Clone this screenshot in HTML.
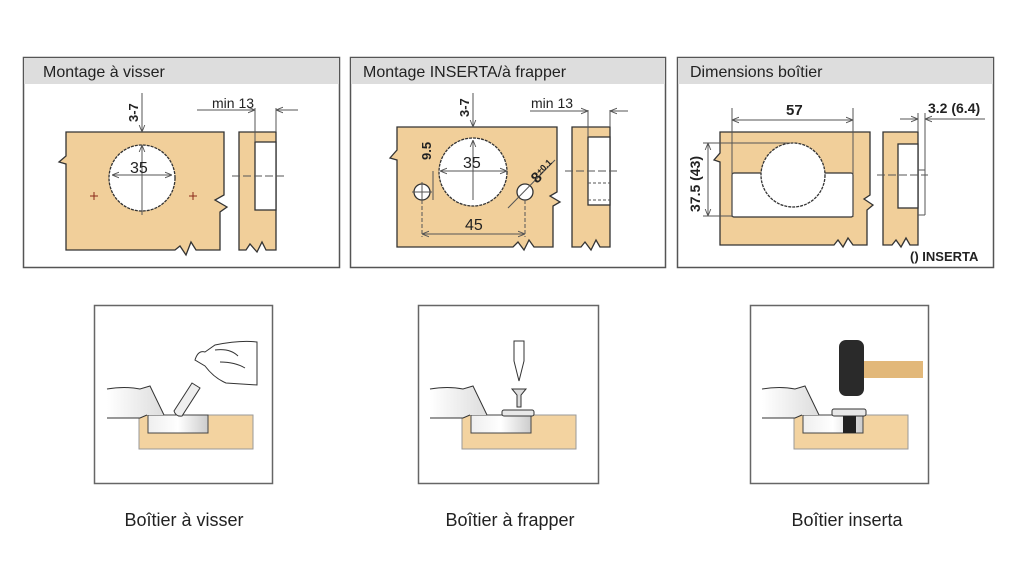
<!DOCTYPE html>
<html><head><meta charset="utf-8"><style>
body{margin:0;background:#fff;}
svg{display:block;font-family:"Liberation Sans",sans-serif;}
</style></head><body>
<svg width="1024" height="563" viewBox="0 0 1024 563" xmlns="http://www.w3.org/2000/svg">
<defs>
<marker id="a" viewBox="0 0 10 10" refX="10" refY="5" markerWidth="7" markerHeight="7" orient="auto-start-reverse"><path d="M0,1 L10,5 L0,9" fill="none" stroke="#555" stroke-width="1.3"/></marker>
<linearGradient id="g" x1="0" y1="0" x2="1" y2="0"><stop offset="0" stop-color="#eee"/><stop offset="0.5" stop-color="#fff"/><stop offset="1" stop-color="#ccc"/></linearGradient>
<linearGradient id="h" x1="0" y1="0" x2="1" y2="0"><stop offset="0" stop-color="#fff"/><stop offset="1" stop-color="#ddd"/></linearGradient>
</defs>
<g stroke="#555" stroke-width="1.5" fill="#fff">
<rect x="23.5" y="57.5" width="316" height="210"/>
<rect x="350.5" y="57.5" width="315" height="210"/>
<rect x="677.5" y="57.5" width="316" height="210"/>
</g>
<g fill="#ddd">
<rect x="24" y="58" width="315" height="26"/>
<rect x="351" y="58" width="314" height="26"/>
<rect x="678" y="58" width="315" height="26"/>
</g>
<g font-size="16" fill="#222">
<text x="43" y="77">Montage à visser</text>
<text x="363" y="77">Montage INSERTA/à frapper</text>
<text x="690" y="77">Dimensions boîtier</text>
</g>
<!-- Panel 1 -->
<g stroke="#333" stroke-width="1.3">
<path d="M66,132 H224 V195 L215,200 L227,207 L220,212 V250 H196 L191,242 L186,255 L180,246 L175,250 H66 V164 L59,162 L66,156 Z" fill="#f1cf9a"/>
<circle cx="142" cy="178" r="33" fill="#fff" stroke-dasharray="3,1"/>
<path d="M239,132 H276 V250 H266 L262,242 L257,252 L250,244 L246,250 H239 Z" fill="#f1cf9a"/>
<rect x="255" y="142" width="21" height="68" fill="#fff"/>
</g>
<g stroke="#555" stroke-width="1" fill="none">
<line x1="142" y1="93" x2="142" y2="132" marker-end="url(#a)"/>
<line x1="142" y1="155" x2="142" y2="145" marker-end="url(#a)"/>
<line x1="142" y1="145" x2="142" y2="215"/>
<line x1="112" y1="175" x2="172" y2="175" marker-start="url(#a)" marker-end="url(#a)"/>
<line x1="255" y1="108" x2="255" y2="142"/><line x1="276" y1="108" x2="276" y2="132"/>
<line x1="197" y1="110" x2="255" y2="110" marker-end="url(#a)"/>
<line x1="298" y1="110" x2="276" y2="110" marker-end="url(#a)"/>
<line x1="232" y1="176" x2="286" y2="176" stroke-dasharray="8,3"/>
<path d="M90,196h8M94,192v8M189,196h8M193,192v8" stroke="#8a2a1a"/>
</g>
<text x="130" y="173" font-size="16" fill="#222">35</text>
<text x="212" y="108" font-size="14" fill="#222">min 13</text>
<text transform="translate(138,122) rotate(-90)" font-size="13" font-weight="bold" fill="#222">3-7</text>
<!-- Panel 2 -->
<g stroke="#333" stroke-width="1.3">
<path d="M397,127 H557 V192 L550,196 L560,202 L553,206 V247 H534 L529,240 L524,250 L518,242 L513,247 H397 V160 L390,158 L397,150 Z" fill="#f1cf9a"/>
<circle cx="473" cy="172" r="34" fill="#fff" stroke-dasharray="3,1"/>
<circle cx="422" cy="192" r="8" fill="#fff"/>
<circle cx="525" cy="192" r="8" fill="#fff"/>
<path d="M572,127 H610 V247 H600 L596,240 L591,250 L585,242 L581,247 H572 Z" fill="#f1cf9a"/>
<rect x="588" y="137" width="22" height="68" fill="#fff"/>
</g>
<g stroke="#555" stroke-width="1" fill="none">
<line x1="473" y1="93" x2="473" y2="127" marker-end="url(#a)"/>
<line x1="473" y1="148" x2="473" y2="140" marker-end="url(#a)"/>
<line x1="473" y1="140" x2="473" y2="200"/>
<line x1="440" y1="171" x2="507" y2="171" marker-start="url(#a)" marker-end="url(#a)"/>
<line x1="433" y1="171" x2="433" y2="200"/>
<line x1="422" y1="200" x2="422" y2="237" stroke-dasharray="4,2"/>
<line x1="525" y1="200" x2="525" y2="237" stroke-dasharray="4,2"/>
<line x1="422" y1="234" x2="525" y2="234" marker-start="url(#a)" marker-end="url(#a)"/>
<line x1="412" y1="192" x2="432" y2="192"/><line x1="422" y1="182" x2="422" y2="202"/>
<line x1="508" y1="208" x2="555" y2="160"/>
<line x1="588" y1="110" x2="588" y2="137"/><line x1="610" y1="110" x2="610" y2="127"/>
<line x1="530" y1="111" x2="588" y2="111" marker-end="url(#a)"/>
<line x1="628" y1="111" x2="610" y2="111" marker-end="url(#a)"/>
<line x1="565" y1="171" x2="620" y2="171" stroke-dasharray="8,3"/>
<line x1="588" y1="183" x2="610" y2="183" stroke-dasharray="3,2"/>
<line x1="588" y1="200" x2="610" y2="200" stroke-dasharray="3,2"/>
</g>
<text x="463" y="168" font-size="16" fill="#222">35</text>
<text x="465" y="230" font-size="16" fill="#222">45</text>
<text x="531" y="108" font-size="14" fill="#222">min 13</text>
<text transform="translate(469,117) rotate(-90)" font-size="13" font-weight="bold" fill="#222">3-7</text>
<text transform="translate(431,160) rotate(-90)" font-size="13" font-weight="bold" fill="#222">9.5</text>
<text transform="translate(537,184) rotate(-45)" font-size="15" font-weight="bold" fill="#222">8<tspan font-size="9" dy="-4">±0.1</tspan></text>
<!-- Panel 3 -->
<g stroke="#333" stroke-width="1.3">
<path d="M720,132 H870 V195 L864,199 L873,205 L867,210 V245 H853 L848,238 L843,247 L838,240 L834,245 H720 V162 L714,160 L720,153 Z" fill="#f1cf9a"/>
<rect x="732" y="173" width="121" height="44" rx="2" fill="#fff"/>
<circle cx="793" cy="175" r="32" fill="#fff" stroke-dasharray="3,1"/>
<path d="M883,132 H918 V245 H910 L906,238 L901,247 L896,240 L892,245 H883 Z" fill="#f1cf9a"/>
<rect x="898" y="144" width="20" height="64" fill="#fff"/>
</g>
<g stroke="#555" stroke-width="1" fill="none">
<line x1="732" y1="108" x2="732" y2="217"/><line x1="853" y1="108" x2="853" y2="217"/>
<line x1="732" y1="120" x2="853" y2="120" marker-start="url(#a)" marker-end="url(#a)"/>
<line x1="703" y1="143" x2="790" y2="143"/><line x1="703" y1="216" x2="732" y2="216"/>
<line x1="708" y1="143" x2="708" y2="216" marker-start="url(#a)" marker-end="url(#a)"/>
<line x1="918" y1="113" x2="918" y2="132"/><line x1="925" y1="113" x2="925" y2="215"/>
<line x1="900" y1="119" x2="918" y2="119" marker-end="url(#a)"/>
<line x1="985" y1="119" x2="925" y2="119" marker-end="url(#a)"/>
<line x1="877" y1="175" x2="928" y2="175" stroke-dasharray="8,3"/>
<line x1="918" y1="170" x2="925" y2="170"/><line x1="918" y1="215" x2="925" y2="215"/>
</g>
<text x="786" y="115" font-size="15" font-weight="bold" fill="#222">57</text>
<text x="928" y="113" font-size="14" font-weight="bold" fill="#222">3.2 (6.4)</text>
<text transform="translate(700,212) rotate(-90)" font-size="14" font-weight="bold" fill="#222">37.5 (43)</text>
<text x="910" y="261" font-size="13" font-weight="bold" fill="#222">() INSERTA</text>
<!-- Bottom boxes -->
<g stroke="#666" stroke-width="1.5" fill="#fff">
<rect x="94.5" y="305.5" width="178" height="178"/>
<rect x="418.5" y="305.5" width="180" height="178"/>
<rect x="750.5" y="305.5" width="178" height="178"/>
</g>
<g id="w1">
<rect x="139" y="415" width="114" height="34" fill="#f3d3a0" stroke="#999"/>
<rect x="148" y="415" width="60" height="18" fill="url(#g)" stroke="#444"/>
<path d="M107,389 Q125,386 140,389 L150,386 L164,415 H147 L140,418 H107 Z" fill="url(#h)" stroke="none"/>
<path d="M107,389 Q125,386 140,389 L150,386 L164,415 M147,415 L140,418 H107" fill="none" stroke="#333"/>
</g>
<!-- box1 tool & hand -->
<path d="M174,411 L192,383 L200,388 L182,416 Q176,417 174,411 Z" fill="#eee" stroke="#333"/>
<path d="M195,360 Q198,350 205,352 L215,345 Q240,340 257,342 L257,385 L226,383 Q214,378 205,366 Z" fill="#fff" stroke="#333"/>
<path d="M215,350 Q230,348 238,356 M220,362 Q235,362 245,368" fill="none" stroke="#333"/>
<!-- box2 -->
<use href="#w1" x="323"/>
<path d="M514,341 h10 v20 l-5,20 l-5,-20 Z" fill="#fff" stroke="#333"/>
<path d="M512,389 h14 l-5,6 v12 h-4 v-12 Z" fill="#ddd" stroke="#333"/>
<rect x="502" y="410" width="32" height="6" rx="2" fill="#e8e8e8" stroke="#333"/>
<!-- box3 -->
<use href="#w1" x="655"/>
<rect x="864" y="361" width="59" height="17" fill="#e2b87a"/>
<rect x="839" y="340" width="25" height="56" rx="7" fill="#2a2a2a"/>
<rect x="832" y="409" width="34" height="7" rx="2" fill="#e8e8e8" stroke="#333"/>
<rect x="843" y="416" width="13" height="17" fill="#222"/>
<g font-size="18" fill="#222" text-anchor="middle">
<text x="184" y="526">Boîtier à visser</text>
<text x="510" y="526">Boîtier à frapper</text>
<text x="847" y="526">Boîtier inserta</text>
</g>
</svg>
</body></html>
